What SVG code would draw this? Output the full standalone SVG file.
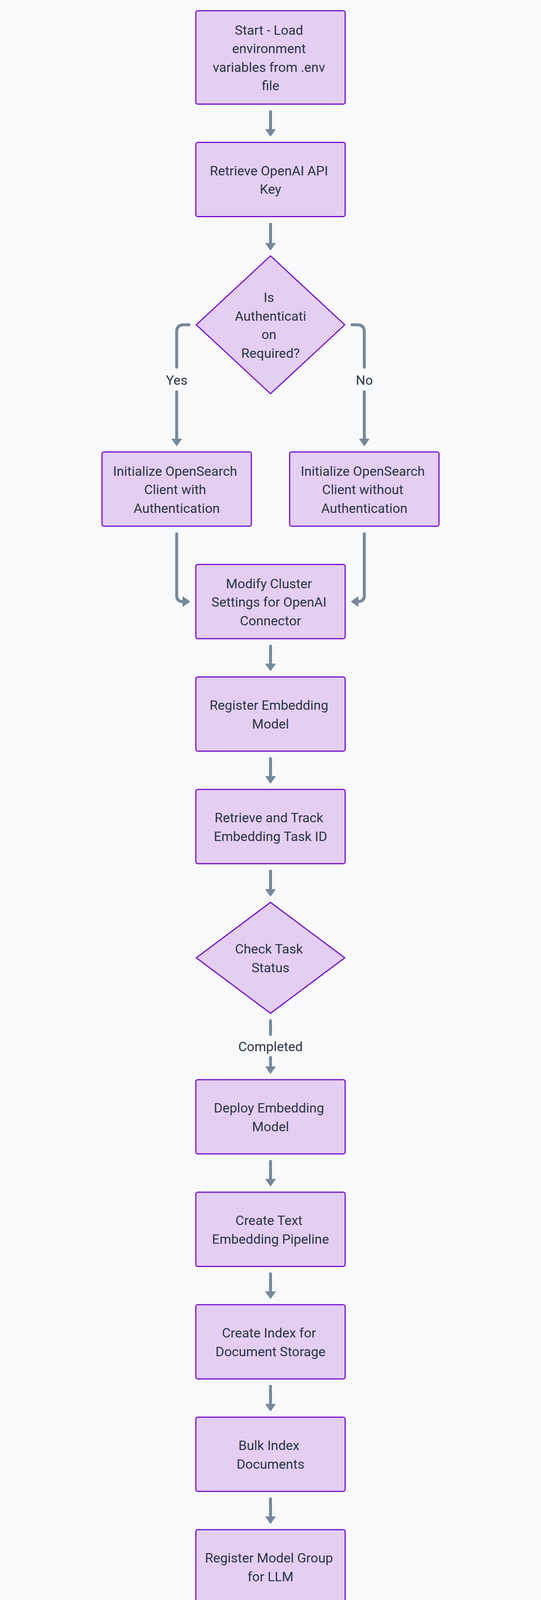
<svg xmlns="http://www.w3.org/2000/svg" xmlns:xlink="http://www.w3.org/1999/xlink" width="1384" height="6732" viewBox="0 0 1384 6732">
<style>
.bg{fill:#f8f9fa}
.node rect,.node polygon{fill:#e4cef3;stroke:#7211c9;stroke-width:3;stroke-linejoin:round}
text{font-family:Roboto,"Liberation Sans",sans-serif;font-size:34px;fill:#2b3546;text-anchor:middle}
.edge{fill:none;stroke:#778899;stroke-width:7.5;stroke-linecap:round;stroke-linejoin:round}
.ah{fill:#778899;stroke:#778899;stroke-width:2;stroke-linejoin:round}
</style>
<defs>
<path id="ah" d="M-12,-17 L12,-17 L0,0 Z"/>
</defs>
<rect class="bg" x="0" y="0" width="1384" height="6732"/>

<g id="connectors">
<path class="edge" d="M692,286 V337"/><use href="#ah" class="ah" transform="translate(692,348.5)"/>
<path class="edge" d="M692,574 V626"/><use href="#ah" class="ah" transform="translate(692,640)"/>
<path class="edge" d="M483.5,831.5 H470 Q452,831.5 452,849.5 V940"/>
<path class="edge" d="M452,1003 V1129"/><use href="#ah" class="ah" transform="translate(452,1141)"/>
<text x="452" y="985">Yes</text>
<path class="edge" d="M900.5,831.5 H914 Q932,831.5 932,849.5 V940"/>
<path class="edge" d="M932,1003 V1129"/><use href="#ah" class="ah" transform="translate(932,1141)"/>
<text x="932" y="985">No</text>
<path class="edge" d="M452,1366.5 V1524 Q452,1540 468,1540 H472"/><use href="#ah" class="ah" transform="translate(485,1540) rotate(-90)"/>
<path class="edge" d="M932,1366.5 V1524 Q932,1540 916,1540 H912"/><use href="#ah" class="ah" transform="translate(899,1540) rotate(90)"/>
<path class="edge" d="M692,1654 V1705"/><use href="#ah" class="ah" transform="translate(692,1717)"/>
<path class="edge" d="M692,1942 V1993"/><use href="#ah" class="ah" transform="translate(692,2005)"/>
<path class="edge" d="M692,2230 V2282"/><use href="#ah" class="ah" transform="translate(692,2294)"/>
<path class="edge" d="M692,2613 V2648"/>
<path class="edge" d="M692,2707 V2735"/><use href="#ah" class="ah" transform="translate(692,2748)"/>
<text x="692" y="2691">Completed</text>
<path class="edge" d="M692,2973 V3024"/><use href="#ah" class="ah" transform="translate(692,3036)"/>
<path class="edge" d="M692,3261 V3312"/><use href="#ah" class="ah" transform="translate(692,3324)"/>
<path class="edge" d="M692,3549 V3600"/><use href="#ah" class="ah" transform="translate(692,3612)"/>
<path class="edge" d="M692,3837 V3888"/><use href="#ah" class="ah" transform="translate(692,3900)"/>
<path class="edge" d="M692,4125 V4176"/><use href="#ah" class="ah" transform="translate(692,4188)"/>
<path class="edge" d="M692,4413 V4464"/><use href="#ah" class="ah" transform="translate(692,4476)"/>
<path class="edge" d="M692,4701 V4752"/><use href="#ah" class="ah" transform="translate(692,4764)"/>
<path class="edge" d="M692,4989 V5040"/><use href="#ah" class="ah" transform="translate(692,5052)"/>
<path class="edge" d="M692,5277 V5328"/><use href="#ah" class="ah" transform="translate(692,5340)"/>
<path class="edge" d="M692,5565 V5616"/><use href="#ah" class="ah" transform="translate(692,5628)"/>
<path class="edge" d="M692,5853 V5904"/><use href="#ah" class="ah" transform="translate(692,5916)"/>
<path class="edge" d="M692,6141 V6192"/><use href="#ah" class="ah" transform="translate(692,6204)"/>
<path class="edge" d="M692,6429 V6480"/><use href="#ah" class="ah" transform="translate(692,6492)"/>
</g>

<g id="start" class="node"><rect x="501" y="27.5" width="382" height="239" rx="5"/>
<text x="688" y="88.75">Start - Load</text><text x="688" y="136.25">environment</text><text x="688" y="183.75">variables from .env</text><text x="692" y="231.25">file</text></g>

<g id="apikey" class="node"><rect x="501" y="364.5" width="382" height="190" rx="5"/>
<text x="688" y="448.75">Retrieve OpenAI API</text><text x="692" y="496.25">Key</text></g>

<g id="authcheck" class="node"><polygon points="692,655 882,831.5 692,1008 502,831.5"/>
<text x="688" y="773.25">Is</text><text x="692" y="820.75">Authenticati</text><text x="688" y="868.25">on</text><text x="692" y="915.75">Required?</text></g>

<g id="initauth" class="node"><rect x="261" y="1157" width="382" height="190" rx="5"/>
<text x="448" y="1217.5">Initialize OpenSearch</text><text x="448" y="1265">Client with</text><text x="452" y="1312.5">Authentication</text></g>

<g id="initnoauth" class="node"><rect x="741" y="1157" width="382" height="190" rx="5"/>
<text x="928" y="1217.5">Initialize OpenSearch</text><text x="928" y="1265">Client without</text><text x="932" y="1312.5">Authentication</text></g>

<g id="modify" class="node"><rect x="501" y="1445" width="382" height="190" rx="5"/>
<text x="688" y="1505.5">Modify Cluster</text><text x="688" y="1553">Settings for OpenAI</text><text x="692" y="1600.5">Connector</text></g>

<g id="regemb" class="node"><rect x="501" y="1733" width="382" height="190" rx="5"/>
<text x="688" y="1817.25">Register Embedding</text><text x="692" y="1865">Model</text></g>

<g id="track" class="node"><rect x="501" y="2021" width="382" height="190" rx="5"/>
<text x="688" y="2105.25">Retrieve and Track</text><text x="692" y="2153">Embedding Task ID</text></g>

<g id="checktask" class="node"><polygon points="692,2310 882,2452 692,2594 502,2452"/>
<text x="688" y="2441.25">Check Task</text><text x="692" y="2489">Status</text></g>

<g id="deployemb" class="node"><rect x="501" y="2764" width="382" height="190" rx="5"/>
<text x="688" y="2848.25">Deploy Embedding</text><text x="692" y="2896">Model</text></g>

<g id="pipeline" class="node"><rect x="501" y="3052" width="382" height="190" rx="5"/>
<text x="688" y="3136.25">Create Text</text><text x="692" y="3184">Embedding Pipeline</text></g>

<g id="index" class="node"><rect x="501" y="3340" width="382" height="190" rx="5"/>
<text x="688" y="3424.25">Create Index for</text><text x="692" y="3472">Document Storage</text></g>

<g id="bulk" class="node"><rect x="501" y="3628" width="382" height="190" rx="5"/>
<text x="688" y="3712.25">Bulk Index</text><text x="692" y="3760">Documents</text></g>

<g id="modelgroup" class="node"><rect x="501" y="3916" width="382" height="190" rx="5"/>
<text x="688" y="4000.25">Register Model Group</text><text x="692" y="4048">for LLM</text></g>

<g id="connector" class="node"><rect x="501" y="4204" width="382" height="190" rx="5"/>
<text x="688" y="4288.25">Create OpenAI</text><text x="692" y="4336">Connector</text></g>

<g id="regllm" class="node"><rect x="501" y="4492" width="382" height="190" rx="5"/>
<text x="692" y="4600">Register LLM Model</text></g>

<g id="deployllm" class="node"><rect x="501" y="4780" width="382" height="190" rx="5"/>
<text x="692" y="4888">Deploy LLM Model</text></g>

<g id="wait" class="node"><rect x="501" y="5068" width="382" height="190" rx="5"/>
<text x="688" y="5152.25">Wait for Deployment</text><text x="692" y="5200">to Complete</text></g>

<g id="test" class="node"><rect x="501" y="5356" width="382" height="190" rx="5"/>
<text x="692" y="5464">Test LLM Prediction</text></g>

<g id="agent" class="node"><rect x="501" y="5644" width="382" height="190" rx="5"/>
<text x="688" y="5704.5">Register Agent with</text><text x="688" y="5752">Embedded Vector DB</text><text x="692" y="5799.5">and ML Model</text></g>

<g id="inspect" class="node"><rect x="501" y="5932" width="382" height="190" rx="5"/>
<text x="692" y="6040">Inspect Agent Status</text></g>

<g id="execute" class="node"><rect x="501" y="6220" width="382" height="190" rx="5"/>
<text x="688" y="6304.25">Execute Agent with</text><text x="692" y="6352">Query</text></g>

<g id="end" class="node"><rect x="501" y="6508" width="382" height="190" rx="5"/>
<text x="692" y="6616">End</text></g>
</svg>
